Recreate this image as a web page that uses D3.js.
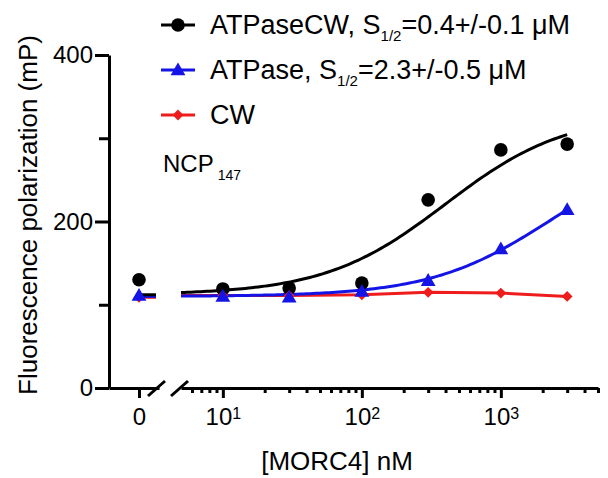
<!DOCTYPE html>
<html>
<head>
<meta charset="utf-8">
<script src="https://cdn.jsdelivr.net/npm/d3@7"></script>
<style>
  html, body { margin: 0; padding: 0; background: #fff; }
  svg { display: block; font-family: "Liberation Sans", Arial, Helvetica, sans-serif; }
</style>
</head>
<body>
<svg id="chart" width="608" height="478"></svg>
<script>
// MORC4 titration onto NCP147, read out by fluorescence polarization (mP)
const concentrations = [0, 10, 30, 100, 300, 1000, 3000]; // nM
const atpaseCW = [130, 119, 120, 126, 226, 286, 293];
const atpase   = [111, 110, 109, 116, 129, 167, 214];
const cw       = [109, 111, 111, 112, 115, 114, 110];

const seriesNames  = ["ATPaseCW", "ATPase", "CW"];
const seriesColors = ["#000000", "#1414e6", "#ee1c1c"];

// Hill fits (n = 1) for the two binding series; S1/2 in µM
const s12Values = [0.4, 2.3];
const s12Errors = [0.1, 0.5];
const fitBottom = [112, 110];
const fitTop    = [330, 294];

const yTicks      = [0, 200, 400];
const yMinorTicks = [100, 300];
const xMajorTicks = [10, 100, 1000];
const xMinorTicks = [6, 7, 8, 9, 20, 30, 40, 50, 60, 70, 80, 90,
                     200, 300, 400, 500, 600, 700, 800, 900, 2000, 3000, 4000, 5000];
const zeroTick = [0];

const svg = d3.select("#chart");
const font = "'Liberation Sans', Arial, sans-serif";

// scales: a short linear segment for the zero dose, then a log axis after the break
const y = d3.scaleLinear().domain([0, 400]).range([388, 55]);
const xZero = d3.scaleLinear().domain([-1.5, 1]).range([109, 159]);
const xLog = d3.scaleLog().domain([5, 5000]).range([181, 598]);
const xPos = c => c === 0 ? xZero(0) : xLog(c);

const axisW = 3;

// ---- y axis ----
const gy = svg.append("g").attr("transform", `translate(${xZero.range()[0]},0)`);
gy.call(d3.axisLeft(y).tickValues(yTicks).tickSize(14).tickSizeOuter(0).tickPadding(2));
gy.append("g").call(d3.axisLeft(y).tickValues(yMinorTicks).tickSize(10).tickFormat(""))
  .select(".domain").remove();
gy.selectAll("path, line").attr("stroke", "#000").attr("stroke-width", axisW);
gy.selectAll("text").attr("font-size", 24).attr("font-family", font).attr("fill", "#000");

// ---- x axis, zero segment ----
const gx0 = svg.append("g").attr("transform", "translate(0,388)");
gx0.call(d3.axisBottom(xZero).tickValues(zeroTick).tickSize(10).tickSizeOuter(0).tickFormat(""));
gx0.selectAll("path, line").attr("stroke", "#000").attr("stroke-width", axisW);
gx0.selectAll(".tick").append("text")
  .attr("y", 37).attr("text-anchor", "middle")
  .attr("font-size", 24).attr("font-family", font).attr("fill", "#000")
  .text(d => d);

// ---- x axis, log segment ----
const gx = svg.append("g").attr("transform", "translate(0,388)");
gx.call(d3.axisBottom(xLog).tickValues(xMajorTicks).tickSize(10).tickSizeOuter(0).tickFormat(""));
gx.append("g").call(d3.axisBottom(xLog).tickValues(xMinorTicks).tickSize(5).tickSizeOuter(0).tickFormat(""))
  .select(".domain").remove();
gx.selectAll("path, line").attr("stroke", "#000").attr("stroke-width", axisW);
gx.selectAll(":scope > .tick").each(function(d) {
  const t = d3.select(this).append("text")
    .attr("y", 37).attr("text-anchor", "middle")
    .attr("font-size", 24).attr("font-family", font).attr("fill", "#000")
    .text("10");
  t.append("tspan").attr("dy", -6).attr("font-size", 16).text(Math.round(Math.log10(d)));
});

// axis break marks
const breakL = xZero.range()[1], breakR = xLog.range()[0];
[breakL - 2, breakR - 1].forEach(bx => {
  svg.append("line")
    .attr("x1", bx - 9).attr("y1", 388 + 8)
    .attr("x2", bx + 8).attr("y2", 388 - 7)
    .attr("stroke", "#000").attr("stroke-width", axisW);
});

// ---- axis titles ----
svg.append("text")
  .attr("transform", "translate(37,215) rotate(-90)")
  .attr("text-anchor", "middle").attr("font-size", 26).attr("font-family", font)
  .text("Fluorescence polarization (mP)");
svg.append("text")
  .attr("x", 337).attr("y", 470)
  .attr("text-anchor", "middle").attr("font-size", 26).attr("font-family", font)
  .text("[MORC4] nM");

// ---- fit curves and connecting line ----
const hill = (i, c) => fitBottom[i] + (fitTop[i] - fitBottom[i]) * c / (s12Values[i] * 1000 + c);
const cStart = xLog.domain()[0], cEnd = concentrations[concentrations.length - 1];
const samples = d3.range(0, 121).map(k => cStart * Math.pow(cEnd / cStart, k / 120));

const lineGen = d3.line().x(d => d[0]).y(d => y(d[1]));
const linesG = svg.append("g").attr("fill", "none").attr("stroke-width", 3);

// CW: straight segments through the measured points
const cwPts = [[xLog(cStart), cw[1]]].concat(
  concentrations.slice(1).map((c, k) => [xLog(c), cw[k + 1]]));
linesG.append("path").attr("d", lineGen(cwPts)).attr("stroke", seriesColors[2]);
linesG.append("path")
  .attr("d", lineGen([[xZero(0), cw[0]], [xZero(0.85), cw[0]]]))
  .attr("stroke", seriesColors[2]);

[1, 0].forEach(i => {
  const pts = samples.map(c => [xLog(c), hill(i, c)]);
  linesG.append("path").attr("d", lineGen(pts)).attr("stroke", seriesColors[i]);
  linesG.append("path")
    .attr("d", lineGen([[xZero(0), fitBottom[i]], [xZero(0.85), fitBottom[i]]]))
    .attr("stroke", seriesColors[i]);
});

// ---- markers ----
const triangle = d3.symbol().type(d3.symbolTriangle).size(95);
const diamond = d3.symbol().type(d3.symbolSquare).size(58);
function drawMarker(g, i, cx, cy) {
  if (i === 0) {
    g.append("circle").attr("cx", cx).attr("cy", cy).attr("r", 6.8).attr("fill", seriesColors[0]);
  } else if (i === 1) {
    g.append("path").attr("d", triangle()).attr("transform", `translate(${cx},${cy + 1})`)
      .attr("fill", seriesColors[1]);
  } else {
    g.append("path").attr("d", diamond()).attr("transform", `translate(${cx},${cy}) rotate(45)`)
      .attr("fill", seriesColors[2]);
  }
}
const seriesValues = [atpaseCW, atpase, cw];
const markG = svg.append("g");
[0, 2, 1].forEach(i => {
  concentrations.forEach((c, k) => drawMarker(markG, i, xPos(c), y(seriesValues[i][k])));
});

// ---- legend ----
const legendRows = [25, 70, 115];
const legendLabels = [
  ["ATPaseCW, S", "1/2", `=${s12Values[0]}+/-${s12Errors[0]} \u03bcM`],
  ["ATPase, S", "1/2", `=${s12Values[1]}+/-${s12Errors[1]} \u03bcM`],
  ["CW", null, null]
];
const legG = svg.append("g");
legendRows.forEach((ly, i) => {
  legG.append("line").attr("x1", 161).attr("x2", 195).attr("y1", ly).attr("y2", ly)
    .attr("stroke", seriesColors[i]).attr("stroke-width", 3);
  drawMarker(legG, i, 178, ly);
  const t = legG.append("text").attr("x", 210).attr("y", ly + 9)
    .attr("font-size", 27).attr("font-family", font).attr("fill", "#000");
  const [a, sub, b] = legendLabels[i];
  t.append("tspan").text(a);
  if (sub) {
    t.append("tspan").attr("dy", 7).attr("font-size", 15).text(sub);
    t.append("tspan").attr("dy", -7).text(b);
  }
});

// sample label
const ncp = svg.append("text").attr("x", 163).attr("y", 172)
  .attr("font-size", 24).attr("font-family", font).attr("fill", "#000");
ncp.append("tspan").text("NCP");
ncp.append("tspan").attr("dx", 4).attr("dy", 8).attr("font-size", 14).text("147");
</script>
</body>
</html>
